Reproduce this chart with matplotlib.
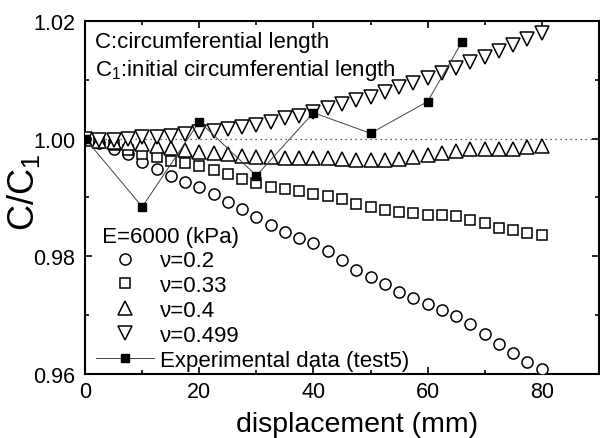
import numpy as np
import matplotlib
matplotlib.use("Agg")
import matplotlib.pyplot as plt
from matplotlib.lines import Line2D

plt.rcParams['font.family'] = ['Liberation Sans', 'DejaVu Sans']
plt.rcParams['mathtext.fontset'] = 'custom'
plt.rcParams['mathtext.rm'] = 'Liberation Sans'
plt.rcParams['mathtext.it'] = 'Liberation Sans'

# displacement (mm), FE results every 2.5 mm
disp = [0, 2.5, 5, 7.5, 10, 12.5, 15, 17.5, 20, 22.5, 25, 27.5, 30, 32.5, 35, 37.5,
        40, 42.5, 45, 47.5, 50, 52.5, 55, 57.5, 60, 62.5, 65, 67.5, 70, 72.5, 75, 77.5, 80]

nu_020 = [1.0000, 0.9993, 0.9983, 0.9973, 0.9960, 0.9949, 0.9937, 0.9927, 0.9917, 0.9905,
          0.9892, 0.9880, 0.9867, 0.9853, 0.9841, 0.9831, 0.9822, 0.9809, 0.9793, 0.9777,
          0.9765, 0.9752, 0.9740, 0.9729, 0.9718, 0.9709, 0.9699, 0.9684, 0.9667, 0.9651,
          0.9636, 0.9621, 0.9609]

nu_033 = [1.0000, 0.9995, 0.9989, 0.9981, 0.9973, 0.9968, 0.9962, 0.9958, 0.9954, 0.9947,
          0.9939, 0.9932, 0.9925, 0.9918, 0.9915, 0.9911, 0.9906, 0.9903, 0.9897, 0.9889,
          0.9884, 0.9879, 0.9875, 0.9873, 0.9870, 0.9870, 0.9869, 0.9862, 0.9856, 0.9848,
          0.9844, 0.9839, 0.9836]

nu_040 = [1.0000, 0.9996, 0.9994, 0.9992, 0.9990, 0.9988, 0.9984, 0.9981, 0.9978, 0.9976,
          0.9973, 0.9971, 0.9969, 0.9968, 0.9967, 0.9967, 0.9967, 0.9967, 0.9966, 0.9964,
          0.9963, 0.9964, 0.9966, 0.9969, 0.9972, 0.9976, 0.9979, 0.9982, 0.9983, 0.9983,
          0.9983, 0.9985, 0.9988]

nu_0499 = [1.0000, 0.9998, 0.9998, 0.9999, 1.0002, 1.0003, 1.0005, 1.0008, 1.0011, 1.0013,
           1.0016, 1.0019, 1.0023, 1.0029, 1.0035, 1.0039, 1.0046, 1.0052, 1.0058, 1.0065,
           1.0070, 1.0079, 1.0087, 1.0094, 1.0103, 1.0111, 1.0120, 1.0130, 1.0138, 1.0149,
           1.0159, 1.0169, 1.0179]

# measured circumference ratio, test 5
exp_disp = [0, 10, 20, 30, 40, 50, 60, 66]
exp_ratio = [1.0000, 0.9884, 1.0029, 0.9937, 1.0044, 1.0009, 1.0063, 1.0164]

series = [
    (nu_020, 'o', 8.0, "\u03bd=0.2"),
    (nu_033, 's', 7.2, "\u03bd=0.33"),
    (nu_040, '^', 9.5, "\u03bd=0.4"),
    (nu_0499, 'v', 9.5, "\u03bd=0.499"),
]

fig = plt.figure(figsize=(6.0, 4.39), dpi=100)
ax = fig.add_axes([0.142, 0.146, 0.856, 0.804])

ax.axhline(1.0, color='#333333', lw=0.9, ls=(0, (1, 3)), zorder=1)

handles = []
for vals, mk, ms, lab in series:
    ax.plot(disp, vals, ls='none', marker=mk, ms=ms, mfc='white', mec='black',
            mew=1.1, zorder=3)
    handles.append(Line2D([], [], ls='none', marker=mk, ms=ms, mfc='white',
                          mec='black', mew=1.1, label=lab))

ax.plot(exp_disp, exp_ratio, color='#444444', lw=0.7, marker='s', ms=5.8,
        mfc='black', mec='black', zorder=4)
handles.append(Line2D([], [], color='#444444', lw=0.7, marker='s', ms=5.8,
                      mfc='black', mec='black', label='Experimental data (test5)'))

ax.set_xlim(0, 90)
ax.set_ylim(0.96, 1.02)
ax.set_xticks([0, 20, 40, 60, 80])
ax.set_xticks([10, 30, 50, 70, 90], minor=True)
ax.set_yticks([0.96, 0.98, 1.00, 1.02])
ax.set_yticks([0.97, 0.99, 1.01], minor=True)
ax.set_yticklabels(['0.96', '0.98', '1.00', '1.02'])
ax.tick_params(which='both', direction='in', top=True, right=True, width=1.2,
               labelsize=15.5)
ax.tick_params(which='major', length=5)
ax.tick_params(which='minor', length=3)
ax.tick_params(axis='y', pad=7)
ax.tick_params(axis='x', pad=5)
for sp in ax.spines.values():
    sp.set_linewidth(1.5)

ax.set_xlabel('displacement (mm)', fontsize=20.5)
ax.xaxis.set_label_coords(0.53, -0.163)
ax.xaxis.label.set_va('baseline')
fig.text(23 / 600, 1 - 192 / 439, 'C/C$_1$', fontsize=26, rotation=90,
         ha='center', va='center')

ax.text(0.02, 0.926, 'C:circumferential length', transform=ax.transAxes,
        fontsize=16, va='baseline', ha='left')
ax.text(0.02, 0.847, 'C$_1$:initial circumferential length', transform=ax.transAxes,
        fontsize=16, va='baseline', ha='left')

leg = ax.legend(handles=handles, loc='lower left', frameon=False, fontsize=16,
                title=' E=6000 (kPa)', title_fontsize=16, alignment='left',
                handlelength=2.6, handletextpad=0.3, labelspacing=0.17,
                borderaxespad=0.0, borderpad=0.15, bbox_to_anchor=(0.014, 0.0))

fig.savefig('out.png', dpi=100)
